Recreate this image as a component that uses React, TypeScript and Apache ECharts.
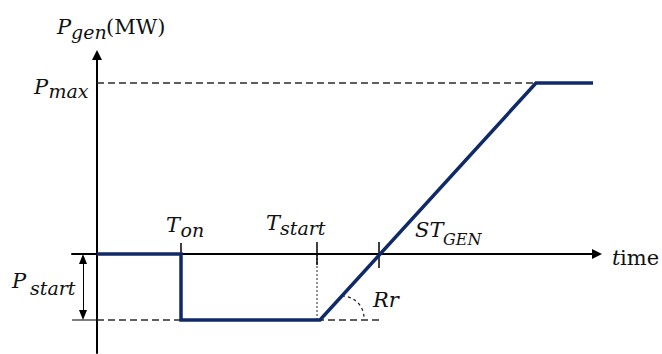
import React, { useEffect, useRef } from "react";
import * as echarts from "echarts";

// ---- data (time units and MW units) ----
const genTime = [0, 84, 84, 223, 439, 496];
const genPower = [0, 0, -66, -66, 171, 171];
const pMax = 171;
const pStart = -66;
const tOn = 84;
const tStart = 220;
const tCross = 282;
const tPmax = 439;
const tDashEnd = 286;
const timeRange = [-25, 500];
const powerRange = [-99, 199];

const BLUE = "#102a68";
const DASH = "#2b2b2b";
const FONT = "DejaVu Serif";

type Lbl = { text: string; x: number; y: number; size: number; italic: boolean };
// label layout (pixel baselines)
const labels: Lbl[] = [
  { text: "P", x: 57, y: 34, size: 21, italic: true },
  { text: "gen", x: 71, y: 39, size: 19, italic: true },
  { text: "(MW)", x: 106, y: 34, size: 21, italic: false },
  { text: "P", x: 34, y: 94, size: 21, italic: true },
  { text: "max", x: 48.5, y: 98, size: 19, italic: true },
  { text: "T", x: 166, y: 232, size: 21, italic: true },
  { text: "on", x: 180.5, y: 237, size: 19, italic: true },
  { text: "T", x: 266, y: 230, size: 21, italic: true },
  { text: "start", x: 280, y: 235, size: 19, italic: true },
  { text: "ST", x: 415, y: 237, size: 21, italic: true },
  { text: "GEN", x: 443, y: 245, size: 16, italic: true },
  { text: "Rr", x: 373, y: 307, size: 21, italic: true },
  { text: "P", x: 12, y: 288, size: 21, italic: true },
  { text: "start", x: 30, y: 295, size: 19, italic: true },
  { text: "t", x: 612, y: 265, size: 21, italic: true },
  { text: "ime", x: 620, y: 265, size: 21, italic: false },
];

const seg = (a: number[], b: number[], color: string, width: number, type: any, z = 2) => ({
  type: "line",
  data: [a, b],
  symbol: "none",
  silent: true,
  z,
  lineStyle: { color, width, type, cap: "butt" },
});

export default function App() {
  const ref = useRef<HTMLDivElement>(null);
  useEffect(() => {
    if (!ref.current) return;
    const chart = echarts.init(ref.current, null, { renderer: "svg" });
    const axisCommon = {
      type: "value",
      axisTick: { show: false },
      axisLabel: { show: false },
      splitLine: { show: false },
    };
    chart.setOption({
      animation: false,
      grid: { left: 72, right: 65, top: 55, bottom: 1, containLabel: false },
      xAxis: {
        ...axisCommon,
        min: timeRange[0],
        max: timeRange[1],
        axisLine: {
          show: true,
          onZero: true,
          symbol: ["none", "triangle"],
          symbolSize: [10, 10],
          lineStyle: { color: "#000", width: 2 },
        },
      },
      yAxis: {
        ...axisCommon,
        min: powerRange[0],
        max: powerRange[1],
        axisLine: {
          show: true,
          onZero: true,
          symbol: ["none", "triangle"],
          symbolSize: [10, 10],
          lineStyle: { color: "#000", width: 2 },
        },
      },
      series: [
        seg([0, pMax], [tPmax, pMax], DASH, 1.7, [7, 4]),
        seg([0, pStart], [tDashEnd, pStart], DASH, 1.7, [7, 4]),
        seg([timeRange[0], pStart], [0, pStart], "#000", 1.2, "solid"),
        seg([tStart, 0], [tStart, pStart], "#222", 1, [2, 2]),
        seg([tOn, 11], [tOn, 0], "#000", 1.5, "solid"),
        seg([tStart, 12], [tStart, -11], "#000", 1.5, "solid"),
        seg([tCross, 12], [tCross, -14], "#000", 1.5, "solid"),
        {
          type: "line",
          data: [],
          silent: true,
          markLine: {
            silent: true,
            symbol: ["triangle", "triangle"],
            symbolSize: [8, 10],
            label: { show: false },
            lineStyle: { color: "#000", width: 1, type: "solid" },
            data: [[{ coord: [-14, -5] }, { coord: [-14, pStart + 5] }]],
          },
        },
        {
          type: "line",
          data: genTime.map((t, i) => [t, genPower[i]]),
          symbol: "none",
          silent: true,
          z: 5,
          lineStyle: { color: BLUE, width: 3.5, join: "miter" },
        },
      ],
    });

    const c = chart.convertToPixel({ gridIndex: 0 }, [245, -64]) as number[];
    const graphics: any[] = [
      {
        type: "arc",
        shape: { cx: c[0], cy: c[1], r: 22, startAngle: -Math.PI / 2, endAngle: -0.05, clockwise: true },
        style: { stroke: "#222", lineWidth: 1.3, lineDash: [3, 3], fill: null },
        silent: true,
      },
      ...labels.map((l) => ({
        type: "text",
        x: l.x,
        y: l.y - l.size * 0.35,
        silent: true,
        style: {
          text: l.text,
          fontFamily: FONT,
          fontSize: l.size,
          fontStyle: l.italic ? "italic" : "normal",
          fill: "#111",
          align: "left",
          verticalAlign: "middle",
        },
      })),
    ];
    chart.setOption({ graphic: graphics });
    return () => chart.dispose();
  }, []);
  return (
    <div
      ref={ref}
      style={{ position: "fixed", left: 0, top: 0, width: 662, height: 354, background: "#fff" }}
    />
  );
}
